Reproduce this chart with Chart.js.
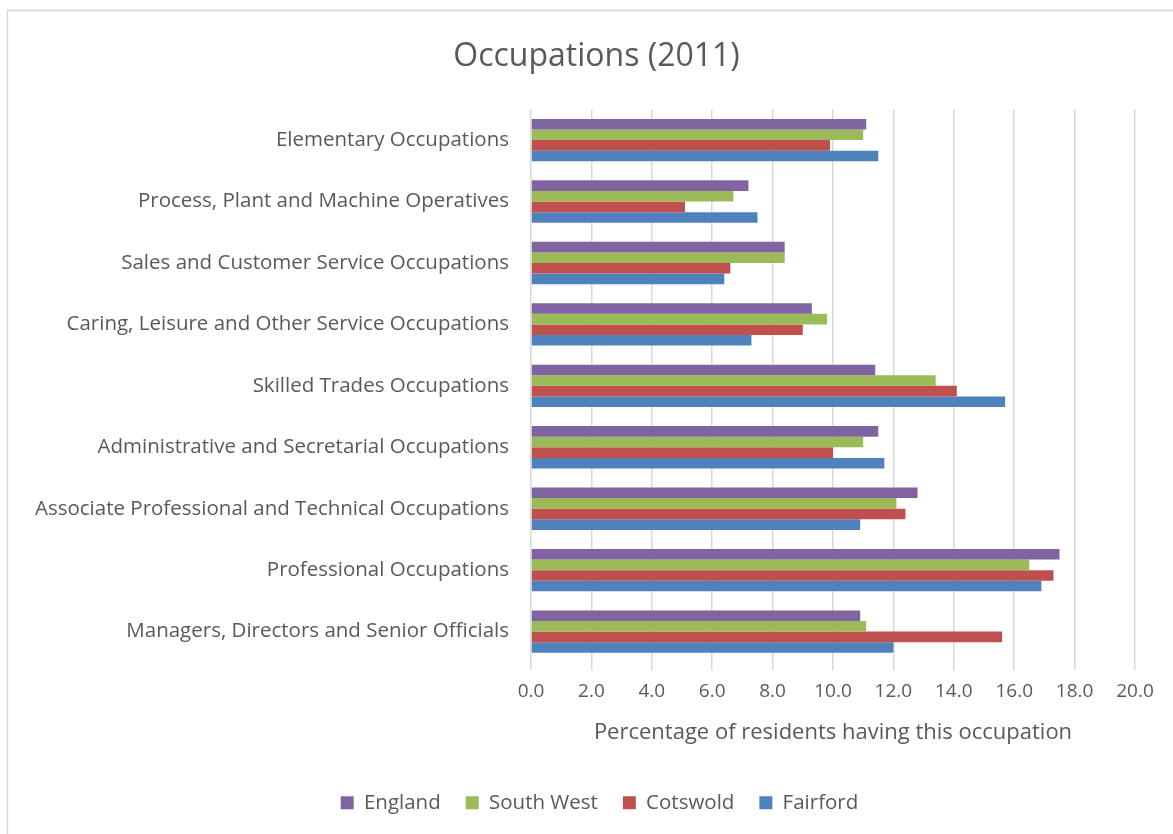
<!DOCTYPE html>
<html>
<head>
<meta charset="utf-8">
<script src="https://cdn.jsdelivr.net/npm/chart.js@4/dist/chart.umd.min.js"></script>
<style>
  html, body { margin: 0; padding: 0; background: #fff; }
  #wrap { width: 1173px; height: 834px; position: relative; }
</style>
</head>
<body>
<div id="wrap"><canvas id="chart"></canvas></div>
<script>
// categories, top to bottom as in the picture
const occupations = [
  'Elementary Occupations',
  'Process, Plant and Machine Operatives',
  'Sales and Customer Service Occupations',
  'Caring, Leisure and Other Service Occupations',
  'Skilled Trades Occupations',
  'Administrative and Secretarial Occupations',
  'Associate Professional and Technical Occupations',
  'Professional Occupations',
  'Managers, Directors and Senior Officials'
];

const england   = [11.1, 7.2, 8.4, 9.3, 11.4, 11.5, 12.8, 17.5, 10.9];
const southWest = [11.0, 6.7, 8.4, 9.8, 13.4, 11.0, 12.1, 16.5, 11.1];
const cotswold  = [9.9, 5.1, 6.6, 9.0, 14.1, 10.0, 12.4, 17.3, 15.6];
const fairford  = [11.5, 7.5, 6.4, 7.3, 15.7, 11.7, 10.9, 16.9, 12.0];

const xMin = 0;
const xMax = 20;
const xStep = 2;

const textColor = '#595959';
const fontFamily = "'Open Sans', 'Noto Sans', sans-serif";

// light grey frame round the chart, like the spreadsheet one
const framePlugin = {
  id: 'frame',
  beforeDraw(chart) {
    const ctx = chart.ctx;
    ctx.save();
    ctx.fillStyle = '#fff';
    ctx.fillRect(0, 0, chart.width, chart.height);
    ctx.strokeStyle = '#d9d9d9';
    ctx.lineWidth = 1.5;
    ctx.strokeRect(7.5, 10.5, chart.width, chart.height);
    ctx.restore();
  }
};

// title and legend sit a bit right of the padded centre in the original
const nudgePlugin = {
  id: 'nudge',
  afterLayout(chart) {
    chart.titleBlock.left += 19;
    chart.titleBlock.right += 19;
    chart.legend.left += 22;
    chart.legend.right += 22;
  }
};

const makeSet = (label, data, color) => ({
  label: label,
  data: data,
  backgroundColor: color,
  borderWidth: 0,
  categoryPercentage: 0.69,
  barPercentage: 1.0
});

new Chart(document.getElementById('chart'), {
  type: 'bar',
  data: {
    labels: occupations,
    datasets: [
      makeSet('England', england, '#8064a2'),
      makeSet('South West', southWest, '#9bbb59'),
      makeSet('Cotswold', cotswold, '#c0504d'),
      makeSet('Fairford', fairford, '#4f81bd')
    ]
  },
  options: {
    indexAxis: 'y',
    responsive: true,
    maintainAspectRatio: false,
    animation: false,
    layout: { padding: { left: 20, right: 38, top: 38, bottom: 11 } },
    plugins: {
      title: {
        display: true,
        text: 'Occupations (2011)',
        color: textColor,
        font: { family: fontFamily, size: 32, weight: 'normal' },
        padding: { top: 0, bottom: 33 }
      },
      legend: {
        position: 'bottom',
        labels: {
          color: textColor,
          font: { family: fontFamily, size: 20.5 },
          boxWidth: 13,
          boxHeight: 13,
          padding: 25
        }
      },
      tooltip: { enabled: false }
    },
    scales: {
      x: {
        min: xMin,
        max: xMax,
        ticks: {
          stepSize: xStep,
          color: textColor,
          font: { family: fontFamily, size: 19 },
          padding: 10,
          callback: v => Number(v).toFixed(1)
        },
        grid: { color: '#d9d9d9', lineWidth: 1.5, tickLength: 8, drawTicks: true },
        border: { display: false },
        title: {
          display: true,
          text: 'Percentage of residents having this occupation',
          color: textColor,
          font: { family: fontFamily, size: 22 },
          padding: { top: 6, bottom: 22 }
        }
      },
      y: {
        ticks: {
          color: textColor,
          font: { family: fontFamily, size: 20.5 },
          padding: 14
        },
        grid: { display: false },
        border: { display: false },
        afterFit(scale) { scale.width = 511; }
      }
    }
  },
  plugins: [framePlugin, nudgePlugin]
});
</script>
</body>
</html>
